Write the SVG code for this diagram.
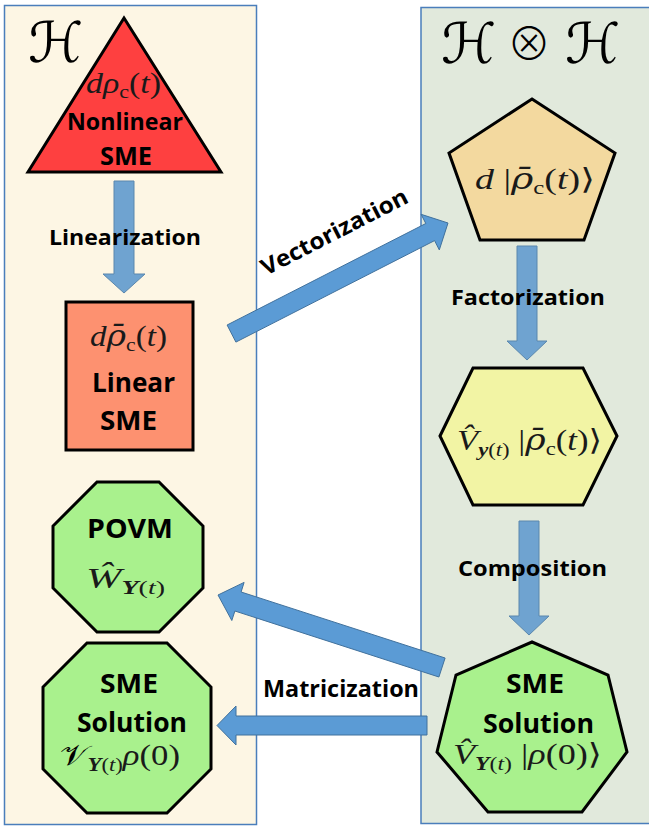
<svg xmlns="http://www.w3.org/2000/svg" width="649" height="827" viewBox="0 0 649 827">
<style>
.lbl{font-family:"Open Sans","Liberation Sans",sans-serif;font-weight:700;fill:#000;}
.m{font-family:"Liberation Serif","DejaVu Serif",serif;fill:#1a1a1a;font-size:29px;}
.i{font-style:italic;}
.bi{font-style:italic;font-weight:700;}
.sub{font-size:19px;}
.bar{font-family:"DejaVu Serif",serif;font-style:italic;}
.node{stroke:#000;stroke-width:3;stroke-linejoin:miter;}
.arr{fill:#5b9bd5;stroke:#41719c;stroke-width:1;}
.varr{fill:#6fa3d0;stroke:#5a87ad;stroke-width:1;}
.cal{font-family:"DejaVu Sans","DejaVu Serif",serif;fill:#000;}
.otimes{font-family:"Noto Sans CJK JP","DejaVu Sans",sans-serif;font-weight:300;fill:#000;}
</style>
<rect x="0" y="0" width="649" height="827" fill="#ffffff"/>
<g id="panel-h">
<rect x="4.5" y="5.5" width="252" height="819" fill="#fdf6e4" stroke="#4a7ebb" stroke-width="1.5"/>
<text class="cal" x="28" y="62" font-size="56" font-style="italic">ℋ</text>
</g>
<g id="panel-hh">
<rect x="421" y="7.5" width="240" height="816" fill="#e1e9dc" stroke="#4a7ebb" stroke-width="1.5"/>
<text class="cal" x="441" y="63" font-size="56" font-style="italic">ℋ</text>
<text class="otimes" x="529" y="60" font-size="44" text-anchor="middle">⊗</text>
<text class="cal" x="565" y="63" font-size="56" font-style="italic">ℋ</text>
</g>
<g id="connectors">
<polygon class="varr" points="114,181 134,181 134,274 145,274 124,293 103,274 114,274"/>
<polygon class="arr" points="227.1,325 425.8,223.5 421.1,214.3 448,223 439.3,249.9 434.6,240.6 235.9,342.1"/>
<polygon class="varr" points="517,246 537,246 537,341 547,341 527,360 507,341 517,341"/>
<polygon class="varr" points="519,521 539,521 539,616 549,616 529,635 509,616 519,616"/>
<polygon class="arr" points="445.1,658 241.1,592 244.1,582.4 218,595 231.8,620.5 234.9,611 438.9,677"/>
<polygon class="arr" points="427,716 236,716 236,706 217,725.5 236,745 236,735 427,735"/>
<text class="lbl" x="125" y="245" font-size="22" text-anchor="middle" textLength="152" lengthAdjust="spacingAndGlyphs">Linearization</text>
<text class="lbl" x="0" y="0" font-size="23" text-anchor="middle" textLength="162" lengthAdjust="spacingAndGlyphs" transform="translate(338,239) rotate(-27.2)">Vectorization</text>
<text class="lbl" x="528" y="305" font-size="22" text-anchor="middle" textLength="154" lengthAdjust="spacingAndGlyphs">Factorization</text>
<text class="lbl" x="532.5" y="576" font-size="22" text-anchor="middle" textLength="149" lengthAdjust="spacingAndGlyphs">Composition</text>
<text class="lbl" x="341" y="697" font-size="23" text-anchor="middle" textLength="156" lengthAdjust="spacingAndGlyphs">Matricization</text>
</g>
<g id="nonlinear-sme">
<polygon class="node" points="124,18 221,172 28,172" fill="#fe4040"/>
<text class="m" x="123.5" y="93" text-anchor="middle" textLength="75" lengthAdjust="spacingAndGlyphs"><tspan class="i">dρ</tspan><tspan class="sub" dy="5">c</tspan><tspan dy="-5">(</tspan><tspan class="i">t</tspan>)</text>
<text class="lbl" x="125" y="130" font-size="24" text-anchor="middle" textLength="116" lengthAdjust="spacingAndGlyphs">Nonlinear</text>
<text class="lbl" x="126" y="165" font-size="25" text-anchor="middle" textLength="52" lengthAdjust="spacingAndGlyphs">SME</text>
</g>
<g id="linear-sme">
<rect class="node" x="66" y="302" width="127" height="148" fill="#fd9170"/>
<text class="m" x="128.5" y="346" text-anchor="middle" textLength="77" lengthAdjust="spacingAndGlyphs"><tspan class="i">d</tspan><tspan class="bar">ρ̄</tspan><tspan class="sub" dy="5">c</tspan><tspan dy="-5">(</tspan><tspan class="i">t</tspan>)</text>
<text class="lbl" x="133.5" y="392" font-size="27" text-anchor="middle" textLength="83" lengthAdjust="spacingAndGlyphs">Linear</text>
<text class="lbl" x="128.5" y="430" font-size="26" text-anchor="middle" textLength="57" lengthAdjust="spacingAndGlyphs">SME</text>
</g>
<g id="vec-d">
<polygon class="node" points="532,99 615,153 584,240 480,240 449,153" fill="#f3d99f"/>
<text class="m" x="535" y="189" text-anchor="middle" textLength="120" lengthAdjust="spacingAndGlyphs"><tspan class="i">d</tspan> |<tspan class="bar">ρ̄</tspan><tspan class="sub" dy="5">c</tspan><tspan dy="-5">(</tspan><tspan class="i">t</tspan>)⟩</text>
</g>
<g id="factorized">
<polygon class="node" points="440,436 473,368 583,368 617,436 583,505 473,505" fill="#f2f4a4"/>
<text class="m" x="529.5" y="450" text-anchor="middle" textLength="145" lengthAdjust="spacingAndGlyphs"><tspan class="i">V̂</tspan><tspan class="sub" dy="6"><tspan class="bi">y</tspan>(<tspan class="i">t</tspan>)</tspan><tspan dy="-6"> |</tspan><tspan class="bar">ρ̄</tspan><tspan class="sub" dy="5">c</tspan><tspan dy="-5">(</tspan><tspan class="i">t</tspan>)⟩</text>
</g>
<g id="povm">
<polygon class="node" points="97,482 159,482 203,526 203,588 159,632 97,632 53,588 53,526" fill="#a9f18d"/>
<text class="lbl" x="130" y="538" font-size="26" text-anchor="middle" textLength="86" lengthAdjust="spacingAndGlyphs">POVM</text>
<text class="m" x="125.5" y="588" text-anchor="middle" textLength="79" lengthAdjust="spacingAndGlyphs"><tspan class="i">Ŵ</tspan><tspan class="sub" dy="6"><tspan class="bi">Y</tspan>(<tspan class="i">t</tspan>)</tspan></text>
</g>
<g id="sme-solution-left">
<polygon class="node" points="87,643 167,643 211,687 211,769 167,813 87,813 43,769 43,687" fill="#a9f18d"/>
<text class="lbl" x="129" y="693" font-size="26" text-anchor="middle" textLength="58" lengthAdjust="spacingAndGlyphs">SME</text>
<text class="lbl" x="132" y="732" font-size="26" text-anchor="middle" textLength="110" lengthAdjust="spacingAndGlyphs">Solution</text>
<text class="m" x="120" y="765" text-anchor="middle" textLength="120" lengthAdjust="spacingAndGlyphs"><tspan class="cal" font-size="28">𝒱</tspan><tspan class="sub" dy="6"><tspan class="bi">Y</tspan>(<tspan class="i">t</tspan>)</tspan><tspan dy="-6" class="i">ρ</tspan>(0)</text>
</g>
<g id="sme-solution-right">
<polygon class="node" points="532,642 608,675 627,752 582,812 488,812 437,752 456,675" fill="#a9f18d"/>
<text class="lbl" x="535" y="693" font-size="26" text-anchor="middle" textLength="58" lengthAdjust="spacingAndGlyphs">SME</text>
<text class="lbl" x="538.5" y="733" font-size="26" text-anchor="middle" textLength="111" lengthAdjust="spacingAndGlyphs">Solution</text>
<text class="m" x="527.5" y="764" text-anchor="middle" textLength="149" lengthAdjust="spacingAndGlyphs"><tspan class="i">V̂</tspan><tspan class="sub" dy="6"><tspan class="bi">Y</tspan>(<tspan class="i">t</tspan>)</tspan><tspan dy="-6"> |</tspan><tspan class="i">ρ</tspan>(0)⟩</text>
</g>
</svg>
